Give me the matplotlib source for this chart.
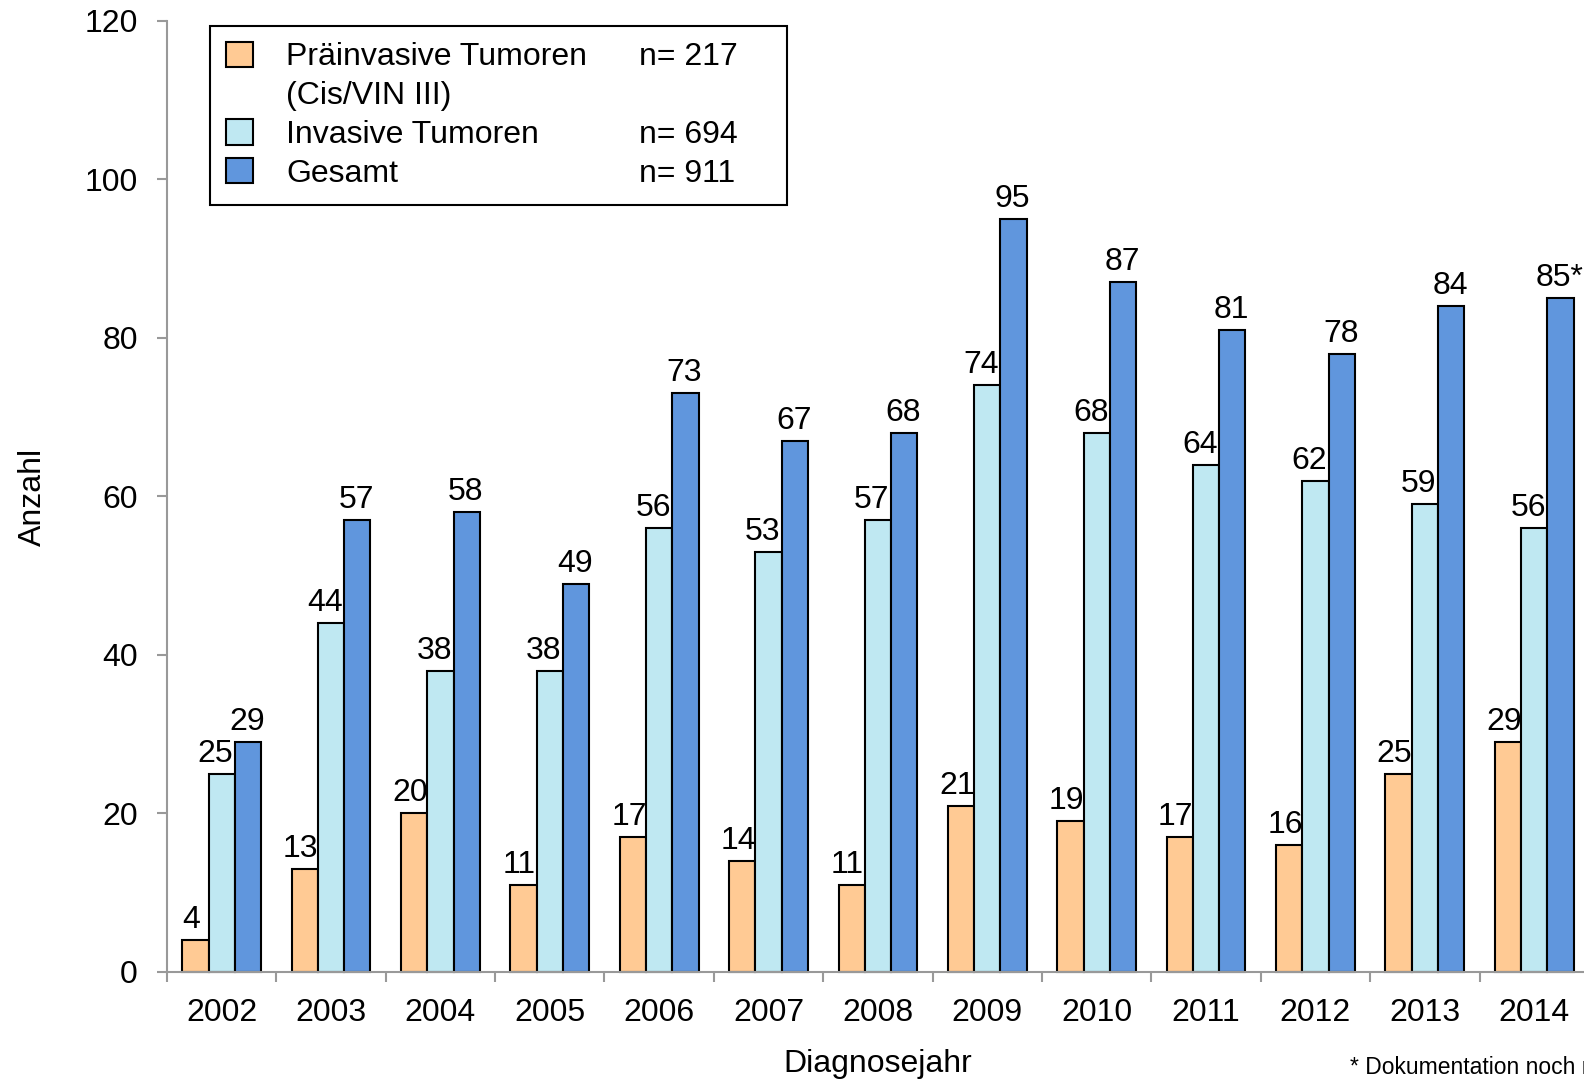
import numpy as np
import matplotlib
matplotlib.use('Agg')
import matplotlib.pyplot as plt
from matplotlib.patches import Patch

plt.rcParams['font.family'] = ['Liberation Sans', 'DejaVu Sans']

# Daten
years = ['2002', '2003', '2004', '2005', '2006', '2007', '2008',
         '2009', '2010', '2011', '2012', '2013', '2014']
praeinvasiv = [4, 13, 20, 11, 17, 14, 11, 21, 19, 17, 16, 25, 29]
invasiv = [25, 44, 38, 38, 56, 53, 57, 74, 68, 64, 62, 59, 56]
gesamt = [29, 57, 58, 49, 73, 67, 68, 95, 87, 81, 78, 84, 85]
gesamt_labels = [str(v) for v in gesamt[:-1]] + ['85*']

legend_names = ['Präinvasive Tumoren', '(Cis/VIN III)', 'Invasive Tumoren', 'Gesamt']
legend_n = ['n= 217', '', 'n= 694', 'n= 911']

c_pre = '#FFCA94'
c_inv = '#BFE8F2'
c_ges = '#6096DD'

fig = plt.figure(figsize=(15.84, 10.79), dpi=100)
ax = fig.add_axes([0.1054, 0.0992, 0.8977, 0.8814])

x = np.arange(len(years))
w = 0.24
fs = 23

b1 = ax.bar(x - w, praeinvasiv, w, color=c_pre, edgecolor='black', linewidth=1.5, clip_on=False)
b2 = ax.bar(x, invasiv, w, color=c_inv, edgecolor='black', linewidth=1.5, clip_on=False)
b3 = ax.bar(x + w, gesamt, w, color=c_ges, edgecolor='black', linewidth=1.5, clip_on=False)

# Beschriftungen
for bars, vals, dx in [(b1, [str(v) for v in praeinvasiv], -4),
                       (b2, [str(v) for v in invasiv], -6),
                       (b3, gesamt_labels, -1)]:
    for rect, lab in zip(bars, vals):
        ax.annotate(lab, (rect.get_x() + rect.get_width() / 2, rect.get_height()),
                    xytext=(dx, 12), textcoords='offset pixels',
                    ha='center', va='baseline', fontsize=fs)

ax.set_xlim(-0.5, len(years) - 0.5)
ax.set_ylim(0, 120)
ax.set_yticks(np.arange(0, 121, 20))
ax.set_xticks(np.arange(-0.5, len(years), 1.0))
ax.set_xticklabels([])
ax.set_xticks(x, minor=True)
ax.set_xticklabels(years, minor=True)
ax.tick_params(axis='x', which='minor', length=0, pad=19, labelsize=fs)
ax.tick_params(axis='x', which='major', length=7, width=1.5, color='#999999', direction='out')
ax.tick_params(axis='y', length=7, width=1.5, color='#999999', pad=14, labelsize=fs)

for s in ['top', 'right']:
    ax.spines[s].set_visible(False)
for s in ['left', 'bottom']:
    ax.spines[s].set_color('#999999')
    ax.spines[s].set_linewidth(1.5)

ax.set_ylabel('Anzahl', fontsize=fs, labelpad=26)
ax.set_xlabel('Diagnosejahr', fontsize=fs, labelpad=15)

# Legende
handles = [Patch(facecolor=c_pre, edgecolor='black', linewidth=1.5),
           Patch(facecolor='none', edgecolor='none'),
           Patch(facecolor=c_inv, edgecolor='black', linewidth=1.5),
           Patch(facecolor=c_ges, edgecolor='black', linewidth=1.5)]
leg = ax.legend(handles, legend_names, loc='upper left',
                bbox_to_anchor=(0.030, 0.995, 0.406, 0.0), mode='expand',
                fontsize=fs, frameon=True, fancybox=False, framealpha=1,
                edgecolor='black', handlelength=0.85, handleheight=0.85,
                handletextpad=1.05, labelspacing=0.25, borderpad=0.5,
                borderaxespad=0)
leg.get_frame().set_linewidth(1.5)

fig.canvas.draw()
inv = ax.transAxes.inverted()
for t, n in zip(leg.get_texts(), legend_n):
    if not n:
        continue
    bb = t.get_window_extent()
    _, yc = inv.transform((0, (bb.y0 + bb.y1) / 2))
    ax.text(0.332, yc, n, transform=ax.transAxes, fontsize=fs, va='center', ha='left',
            zorder=10)

fig.text(0.8523, 0.0, '* Dokumentation noch nicht vollständig', fontsize=16.5,
         ha='left', va='bottom')

fig.savefig('out.png', dpi=100)
